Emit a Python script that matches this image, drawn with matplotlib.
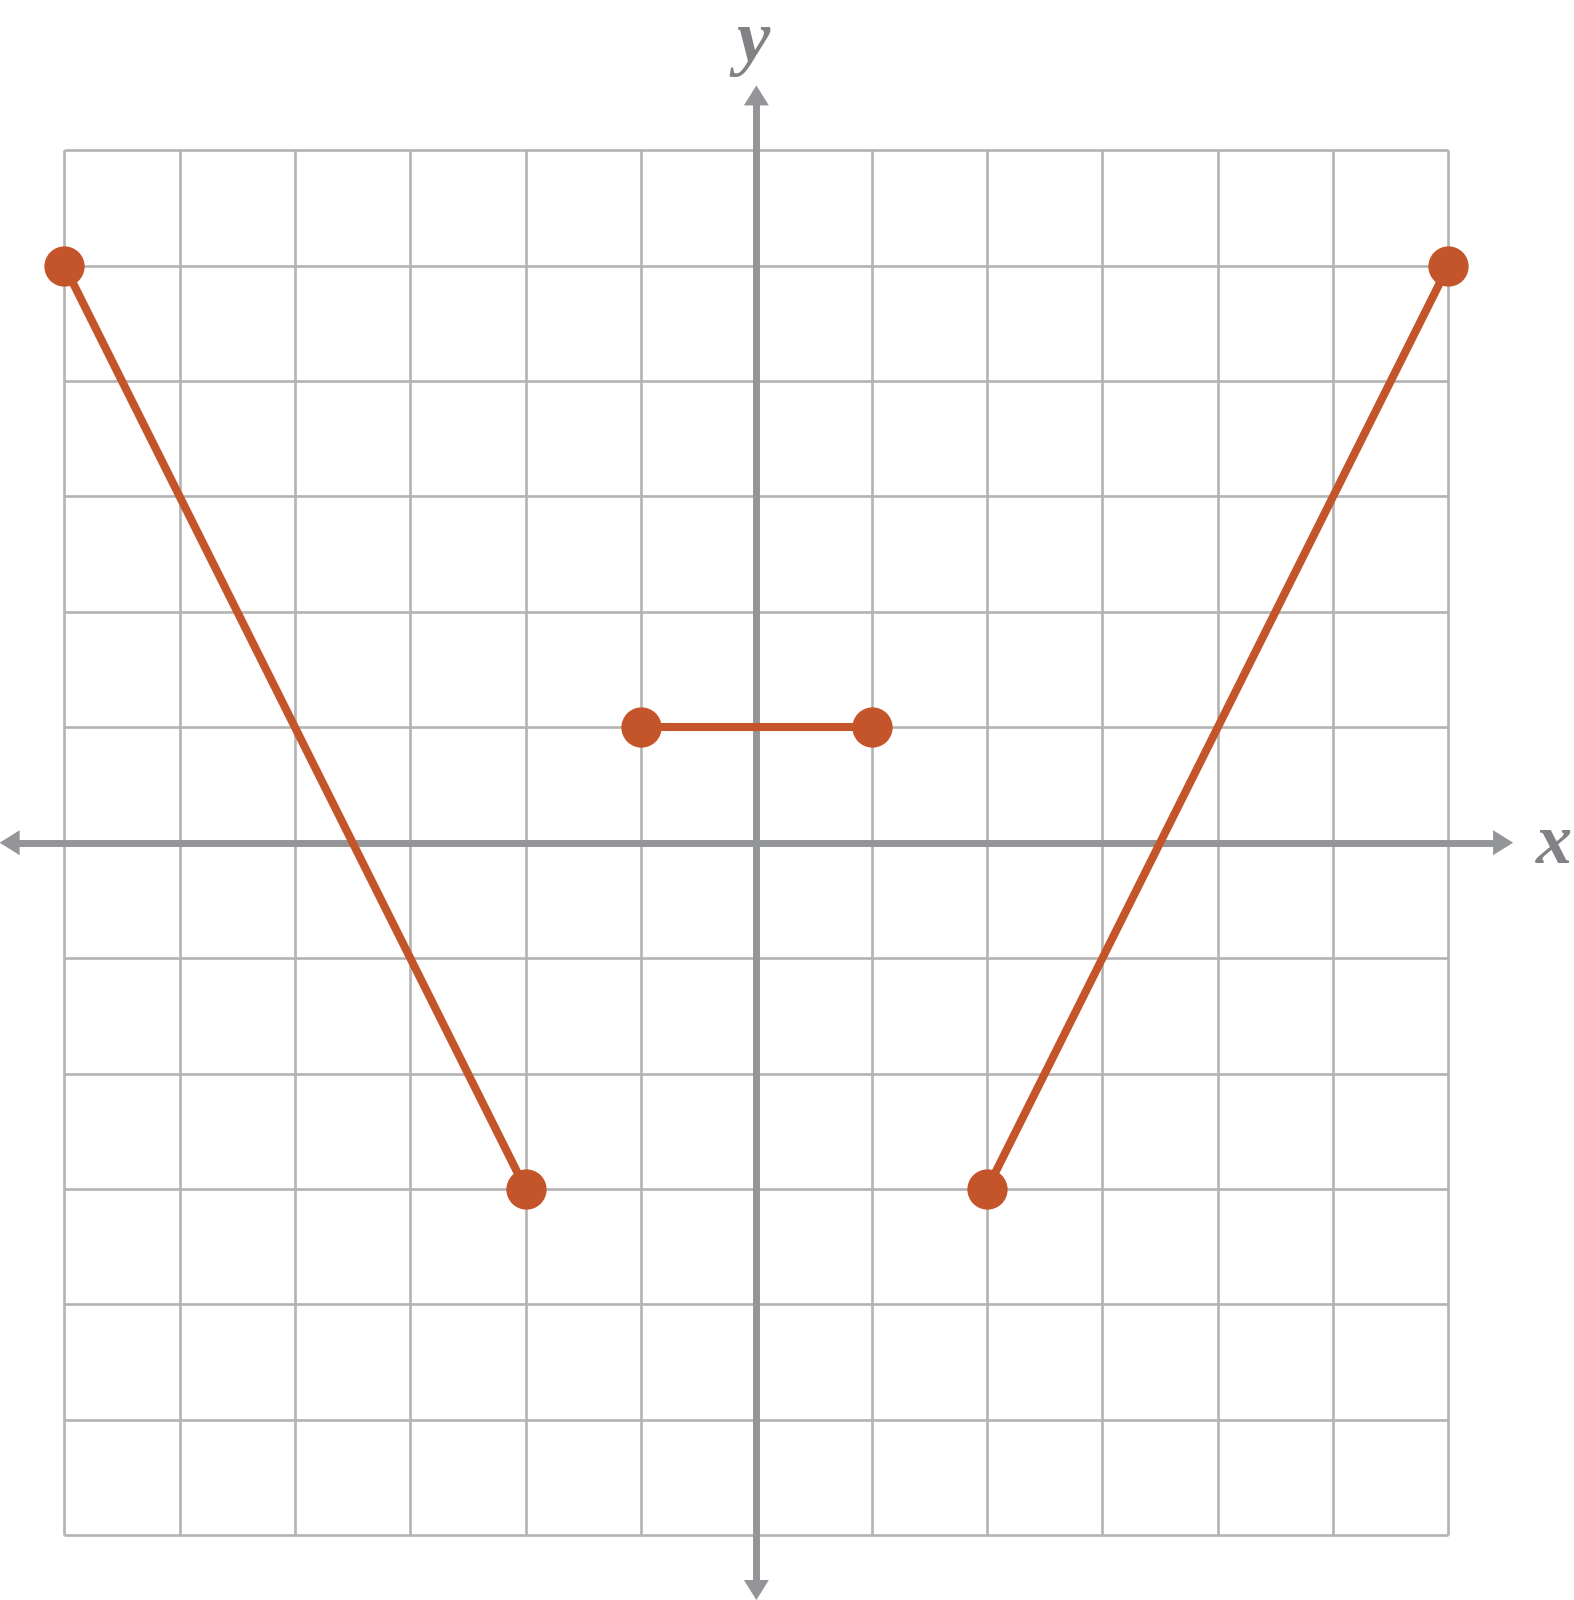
import matplotlib
matplotlib.use("Agg")
import matplotlib.pyplot as plt

# piecewise graph: three segments, closed dots at every endpoint
seg_left_x = [-6, -2]
seg_left_y = [5, -3]
seg_mid_x = [-1, 1]
seg_mid_y = [1, 1]
seg_right_x = [2, 6]
seg_right_y = [-3, 5]

grid_vals = list(range(-6, 7))

ORANGE = "#C4552A"
GRID = "#B3B3B3"
AXIS = "#939598"
LABEL = "#808285"

fig = plt.figure(figsize=(15.74, 16), dpi=100)
ax = fig.add_axes([0, 0, 1, 1])
ax.set_xlim(-6.557, 7.088)
ax.set_ylim(-6.56, 7.30)
ax.axis("off")

# grid
ax.vlines(grid_vals, -6, 6, colors=GRID, lw=1.9, zorder=1)
ax.hlines(grid_vals, -6, 6, colors=GRID, lw=1.9, zorder=1)

# axes: shafts, then filled heads at both ends
ext = 6.56
ax.plot([-ext + 0.1, ext - 0.1], [0, 0], color=AXIS, lw=5, solid_capstyle="butt", zorder=2)
ax.plot([0, 0], [-ext + 0.1, ext - 0.1], color=AXIS, lw=5, solid_capstyle="butt", zorder=2)
head = dict(arrowstyle="-|>,head_length=0.72,head_width=0.45", mutation_scale=20,
            lw=0, color=AXIS, shrinkA=0, shrinkB=0)
for tip, tail in [((ext, 0), (ext - 0.3, 0)), ((-ext, 0), (-ext + 0.3, 0)),
                  ((0, ext), (0, ext - 0.3)), ((0, -ext), (0, -ext + 0.3))]:
    ax.annotate("", xy=tip, xytext=tail, arrowprops=head, zorder=2)

ax.text(6.91, -0.02, "x", fontsize=52, style="italic", weight="bold", family="Liberation Serif",
        color=LABEL, ha="center", va="center")
ax.text(-0.03, 6.93, "y", fontsize=54, style="italic", weight="bold", family="Liberation Serif",
        color=LABEL, ha="center", va="center")

for xs, ys in [(seg_left_x, seg_left_y), (seg_mid_x, seg_mid_y), (seg_right_x, seg_right_y)]:
    ax.plot(xs, ys, color=ORANGE, lw=5.8, solid_capstyle="butt", zorder=3)
    ax.plot(xs, ys, "o", color=ORANGE, ms=29, mec="none", zorder=4)

fig.savefig("out.png", dpi=100)
